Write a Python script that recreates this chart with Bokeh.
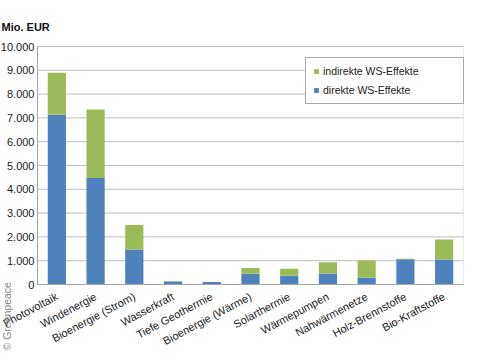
import math
from bokeh.plotting import figure
from bokeh.models import (ColumnDataSource, Range1d, FixedTicker, CustomJSTickFormatter,
                          Legend, LegendItem, BoxAnnotation, Label)
from bokeh.embed import file_html
from bokeh.resources import INLINE

categories = ["Photovoltaik", "Windenergie", "Bioenergie (Strom)", "Wasserkraft",
              "Tiefe Geothermie", "Bioenergie (Wärme)", "Solarthermie", "Wärmepumpen",
              "Nahwärmenetze", "Holz-Brennstoffe", "Bio-Kraftstoffe"]
direkt = [7130, 4480, 1470, 130, 100, 450, 370, 460, 290, 1060, 1050]
indirekt = [1770, 2870, 1030, 20, 10, 240, 290, 480, 720, 20, 840]
y_ticks = [0, 1000, 2000, 3000, 4000, 5000, 6000, 7000, 8000, 9000, 10000]
series = ["direkt", "indirekt"]
series_labels = ["direkte WS-Effekte", "indirekte WS-Effekte"]
colors = ["#4F81BD", "#9BBB59"]
y_title = "Mio. EUR"
credit_text = "© Greenpeace"

FONT = "Liberation Sans"
n = len(categories)
x_pos = list(range(n))

src = ColumnDataSource(dict(x=x_pos, direkt=direkt, indirekt=indirekt))

# the frame fills the whole canvas; the axes are pinned to the plot area's edges
p = figure(width=464, height=351, output_backend="svg", toolbar_location=None,
           x_range=Range1d(-1.455, n - 0.474),
           y_range=Range1d(-2815, 11933),
           min_border=0, min_border_left=0, min_border_right=0,
           min_border_top=0, min_border_bottom=0)
p.outline_line_color = None
p.xgrid.grid_line_color = None
p.ygrid.grid_line_color = None

left_edge, right_edge = -0.5, n - 0.5

# gridlines and plot-area border
p.segment(x0=left_edge, x1=right_edge, y0=y_ticks, y1=y_ticks,
          line_color="#bfbfbf", line_width=1)
p.add_layout(BoxAnnotation(left=left_edge, right=right_edge, bottom=y_ticks[0], top=y_ticks[-1],
                           fill_alpha=0, line_color="#bfbfbf", line_width=1))

renderers = p.vbar_stack(series, x="x", width=0.47, color=colors, line_color=None, source=src)

for ax in (p.xaxis, p.yaxis):
    ax.axis_line_color = "#999999"
    ax.major_tick_line_color = None
    ax.minor_tick_line_color = None
    ax.major_tick_out = 0
    ax.major_tick_in = 0
    ax.minor_tick_out = 0
    ax.minor_tick_in = 0
    ax.major_label_text_font = FONT
    ax.major_label_text_font_size = "11px"
    ax.major_label_text_color = "#222222"

p.yaxis.fixed_location = left_edge
p.yaxis.bounds = (y_ticks[0], y_ticks[-1])
p.yaxis.ticker = FixedTicker(ticks=y_ticks)
p.yaxis.formatter = CustomJSTickFormatter(
    code="return tick.toFixed(0).replace(/\\B(?=(\\d{3})+(?!\\d))/g, '.');")
p.yaxis.major_label_standoff = 3

p.xaxis.fixed_location = y_ticks[0]
p.xaxis.bounds = (left_edge, right_edge)
p.xaxis.ticker = FixedTicker(ticks=x_pos)
p.xaxis.major_label_overrides = {i: c for i, c in zip(x_pos, categories)}
p.xaxis.major_label_orientation = 0.49
p.xaxis.major_label_standoff = 11

legend = Legend(items=[LegendItem(label=series_labels[1], renderers=[renderers[1]]),
                       LegendItem(label=series_labels[0], renderers=[renderers[0]])],
                location=(305, 247))
legend.label_text_font = FONT
legend.label_text_font_size = "10.5px"
legend.label_text_color = "#222222"
legend.glyph_width = 6
legend.glyph_height = 6
legend.label_height = 12
legend.label_width = 133
legend.label_standoff = 4
legend.spacing = 7
legend.padding = 7
legend.margin = 0
legend.border_line_color = "#555555"
legend.border_line_width = 1
legend.background_fill_color = "white"
legend.background_fill_alpha = 1
p.add_layout(legend, "center")

p.add_layout(Label(x=1, y=325, x_units="screen", y_units="screen", text=y_title,
                   text_font=FONT, text_font_size="11px", text_font_style="bold",
                   text_color="#111111", text_align="left", text_baseline="middle"))
p.add_layout(Label(x=6, y=1, x_units="screen", y_units="screen", angle=math.pi / 2,
                   text=credit_text, text_font=FONT, text_font_size="10.5px",
                   text_color="#888888", text_align="left", text_baseline="middle"))

open("out.html", "w").write(file_html(p, INLINE))
